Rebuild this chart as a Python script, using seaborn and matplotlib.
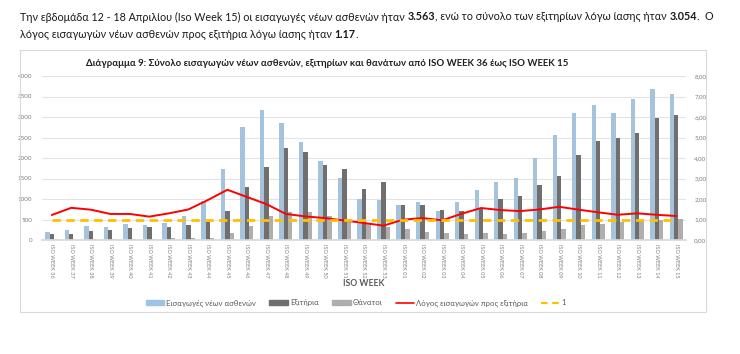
import matplotlib
matplotlib.use("Agg")
import matplotlib.pyplot as plt
import matplotlib.patches as mpatches
import matplotlib.lines as mlines
from matplotlib.ticker import FuncFormatter, MultipleLocator
import seaborn as sns
import pandas as pd

weeks = ["ISO WEEK 36", "ISO WEEK 37", "ISO WEEK 38", "ISO WEEK 39", "ISO WEEK 40",
         "ISO WEEK 41", "ISO WEEK 42", "ISO WEEK 43", "ISO WEEK 44", "ISO WEEK 45",
         "ISO WEEK 46", "ISO WEEK 47", "ISO WEEK 48", "ISO WEEK 49", "ISO WEEK 50",
         "ISO WEEK 51", "ISO WEEK 52", "ISO WEEK 53", "ISO WEEK 01", "ISO WEEK 02",
         "ISO WEEK 03", "ISO WEEK 04", "ISO WEEK 05", "ISO WEEK 06", "ISO WEEK 07",
         "ISO WEEK 08", "ISO WEEK 09", "ISO WEEK 10", "ISO WEEK 11", "ISO WEEK 12",
         "ISO WEEK 13", "ISO WEEK 14", "ISO WEEK 15"]
admissions = [203, 252, 341, 325, 381, 357, 406, 584, 942, 1737, 2744, 3174, 2849, 2394,
              1932, 1510, 1006, 982, 852, 925, 714, 925, 1218, 1420, 1518, 1989, 2565,
              3109, 3287, 3109, 3442, 3685, 3563]
exits = [154, 154, 227, 252, 300, 317, 317, 373, 446, 706, 1282, 1786, 2256, 2135, 1834,
         1737, 1250, 1420, 860, 844, 739, 698, 771, 990, 1071, 1331, 1567, 2078, 2419,
         2484, 2606, 2979, 3054]
deaths = [25, 10, 32, 32, 16, 32, 57, 57, 50, 179, 341, 576, 690, 690, 593, 520, 410, 308,
          276, 195, 170, 154, 170, 146, 170, 219, 268, 357, 381, 430, 495, 495, 519]
ratio = [1.22, 1.57, 1.48, 1.27, 1.27, 1.14, 1.30, 1.49, 1.95, 2.45, 2.10, 1.75, 1.27,
         1.15, 1.07, 0.95, 0.83, 0.70, 0.99, 1.07, 0.96, 1.28, 1.56, 1.46, 1.41, 1.49,
         1.62, 1.48, 1.35, 1.23, 1.30, 1.23, 1.17]
reference = [1.0] * len(weeks)

series_names = ["Εισαγωγές νέων ασθενών", "Εξιτήρια", "Θάνατοι"]
ratio_name = "Λόγος εισαγωγών προς εξιτήρια"
ref_name = "1"
title = ("Διάγραμμα 9: Σύνολο εισαγωγών νέων ασθενών, εξιτηρίων και θανάτων "
         "από ISO WEEK 36 έως ISO WEEK 15")
intro1 = [("Την εβδομάδα 12 - 18 Απριλίου (Iso Week 15) οι εισαγωγές νέων ασθενών ήταν ", False),
          ("3.563", True),
          (", ενώ το σύνολο των εξιτηρίων λόγω ίασης ήταν ", False),
          ("3.054", True),
          (".  Ο", False)]
intro2 = [("λόγος εισαγωγών νέων ασθενών προς εξιτήρια λόγω ίασης ήταν ", False),
          ("1.17", True), (".", False)]
colors = ["#9DC3E6", "#716E6E", "#B0ADAD"]
red = "#FF0000"
gold = "#FFC000"

df = pd.DataFrame({
    "week": weeks * 3,
    "value": admissions + exits + deaths,
    "series": [series_names[0]] * len(weeks) + [series_names[1]] * len(weeks)
              + [series_names[2]] * len(weeks),
})

sns.set_theme(style="white")
plt.rcParams["font.family"] = ["Lato", "DejaVu Sans"]

W, H = 740, 354
fig = plt.figure(figsize=(W / 100, H / 100), dpi=100)
fig.patch.set_facecolor("white")
renderer = fig.canvas.get_renderer()

# chart box
box = mpatches.Rectangle((20 / W, 1 - 312 / H), (706 - 20) / W, (312 - 50) / H,
                         transform=fig.transFigure, fill=False, edgecolor="#D9D9D9",
                         linewidth=0.8)
fig.add_artist(box)

ax = fig.add_axes([42 / W, 1 - 240 / H, (686 - 42) / W, (240 - 76) / H])
sns.barplot(data=df, x="week", y="value", hue="series", order=weeks,
            hue_order=series_names, palette=colors, width=0.67, dodge=True,
            linewidth=0, errorbar=None, legend=False, ax=ax)
ax.set_ylim(0, 4000)
ax.yaxis.set_major_locator(MultipleLocator(500))
ax.grid(axis="y", color="#E3E3E3", linewidth=0.8)
ax.set_axisbelow(True)
for s in ["top", "right", "left"]:
    ax.spines[s].set_visible(False)
ax.spines["bottom"].set_color("#D9D9D9")
ax.tick_params(axis="y", labelsize=4.5, colors="#7F7F7F", length=0, pad=7)
ax.set_xlabel("ISO WEEK", fontsize=6.2, fontweight="bold", color="#595959", labelpad=1)
ax.set_ylabel("")

ax2 = ax.twinx()
sns.pointplot(x=weeks, y=ratio, ax=ax2, color=red, markers="", linestyles="-",
              errorbar=None, linewidth=1.4)
sns.pointplot(x=weeks, y=reference, ax=ax2, color=gold, markers="", linestyles="--",
              errorbar=None, linewidth=2.0)
ax2.set_ylim(0, 8)
ax2.yaxis.set_major_locator(MultipleLocator(1))
ax2.yaxis.set_major_formatter(FuncFormatter(lambda v, p: f"{v:.2f}".replace(".", ",")))
ax2.tick_params(axis="y", labelsize=4.5, colors="#7F7F7F", length=0, pad=6)
for s in ["top", "right", "left", "bottom"]:
    ax2.spines[s].set_visible(False)
ax2.set_ylabel("")
ax2.grid(False)
ax.set_xlim(-0.5, len(weeks) - 0.5)
ax.set_xticks(range(len(weeks)))
ax.set_xticklabels(weeks, rotation=270, fontsize=4.0, color="#7F7F7F")
ax.tick_params(axis="x", length=0, pad=3)
for line in ax2.lines:
    line.set_dash_capstyle("butt")
    if line.get_linestyle() == "--":
        line.set_dashes([3, 2])


def fit_text(x, y, s, target_w, size, **kw):
    t = fig.text(x, y, s, fontsize=size, **kw)
    w = t.get_window_extent(renderer=renderer).width
    t.set_fontsize(size * target_w / w)
    return t


# title
fit_text(327 / W, 1 - 64 / H, title, 482, 8, ha="center", va="center",
         fontweight="bold", color="#1F1F1F")

# legend
handles = [mpatches.Patch(color=colors[0], label=series_names[0]),
           mpatches.Patch(color=colors[1], label=series_names[1]),
           mpatches.Patch(color=colors[2], label=series_names[2]),
           mlines.Line2D([], [], color=red, linewidth=1.2, label=ratio_name),
           mlines.Line2D([], [], color=gold, linewidth=1.6, linestyle=(0, (3, 2)),
                         label=ref_name)]
leg = fig.legend(handles=handles, loc="center", bbox_to_anchor=(356 / W, 1 - 303 / H),
                 ncol=5, frameon=False, fontsize=5.6, handlelength=2.4,
                 handleheight=0.45, columnspacing=1.7, handletextpad=0.25)
for t in leg.get_texts():
    t.set_color("#595959")


def rich_line(parts, x0, y, size):
    x = x0
    texts = []
    for txt, bold in parts:
        t = fig.text(x, y, txt, fontsize=size, fontweight="bold" if bold else "normal",
                     color="#1A1A1A", ha="left", va="center")
        bb = t.get_window_extent(renderer=renderer)
        x += bb.width / W
        texts.append(t)
    return texts, (x - x0) * W


# measure line 1 to fit 20 -> 722 px, then lay out both lines with that size
probe, width1 = rich_line(intro1, 20 / W, 1 - 17 / H, 8.0)
for t in probe:
    t.remove()
size = 8.0 * 702 / width1
rich_line(intro1, 20 / W, 1 - 17 / H, size)
rich_line(intro2, 20 / W, 1 - 35 / H, size)

fig.savefig("out.png", dpi=100, facecolor="white")
